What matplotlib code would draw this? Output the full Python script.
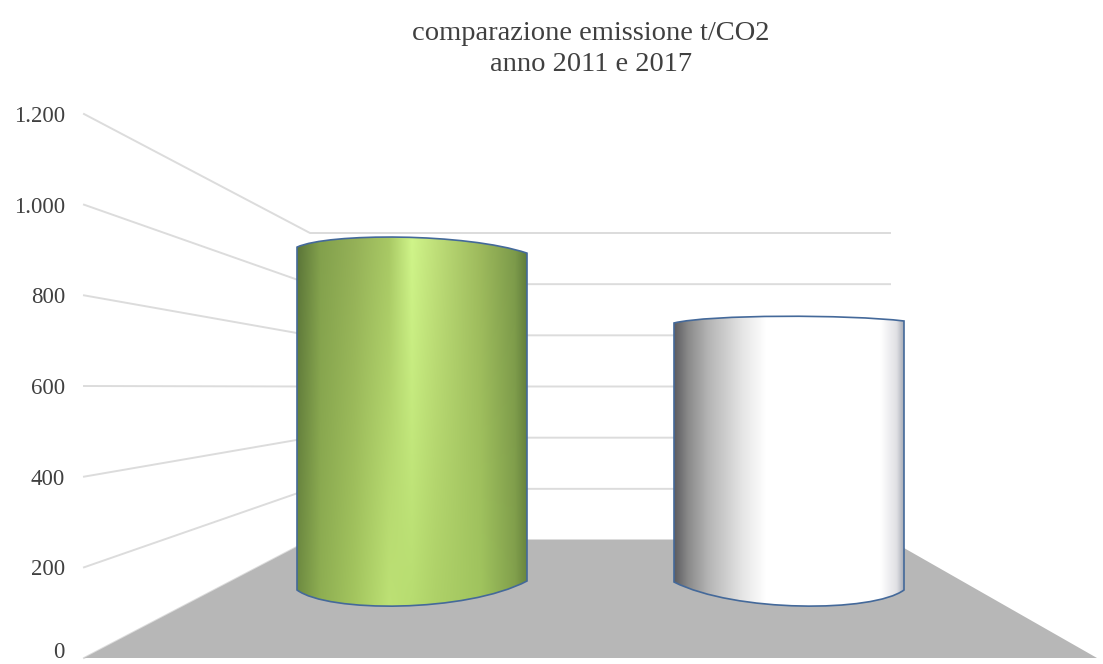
import numpy as np
import matplotlib
matplotlib.use("Agg")
import matplotlib.pyplot as plt
from matplotlib.colors import to_rgb
from matplotlib.patches import Polygon, PathPatch
from matplotlib.path import Path

plt.rcParams['font.family'] = ['Liberation Serif', 'DejaVu Serif']

# data
categories = ['2011', '2017']
emissions = [950, 755]
tick_values = [0, 200, 400, 600, 800, 1000, 1200]
tick_labels = ['0', '200', '400', '600', '800', '1.000', '1.200']
title = 'comparazione emissione t/CO2\nanno 2011 e 2017'

# colour ramps across each bar: stops at the top and at the bottom of the bar
green_pos = [0, 0.1, 0.25, 0.4, 0.5, 0.6, 0.8, 0.95, 1]
green_top = ['#5a7438', '#82a04c', '#94b057', '#a8c864', '#d0f58a', '#c0e07a', '#9db95c', '#7c9a4a', '#5f7c3c']
green_bot = ['#6f8c42', '#8eae52', '#a4c65f', '#bde175', '#b7dc70', '#aed168', '#a0c45e', '#82a04c', '#6a873f']
white_pos = [0, 0.06, 0.15, 0.3, 0.4, 0.9, 0.97, 1]
white_top = ['#5c5c60', '#8a8a8a', '#b5b5b5', '#e6e6e6', '#ffffff', '#ffffff', '#e0e0e4', '#a9aeb8']
ramps = [(green_pos, green_top, green_bot), (white_pos, white_top, white_top)]

# the projected frame, in pixels
front_x, back_x, back_right, floor_right = 84, 310, 890, 1097
front_y0, front_y1 = 658, 114
back_y0, back_y1 = 540, 233
slot_x0, slot_w = 223.5, 377
bar_w = 230

# how the rims of each cylinder bend: left corner, right corner, middle, lean
top_rims = [(-6, 0, -16, -15), (0.7, -1.3, -6, -10)]
bot_rims = [(0, -9, 16, -15), (-8, 0, 16, 15)]


def front_y(v):
    return front_y0 + (front_y1 - front_y0) * v / 1200


def back_y(v):
    return back_y0 + (back_y1 - back_y0) * v / 1200


def mid_y(v):
    # bars stand half way between the front and the back of the floor
    return 590 + (front_y1 - front_y0 + back_y1 - back_y0) / 2 * v / 1200


def rim_controls(x0, x1, y, rim):
    yl, yr, peak, lean = y + rim[0], y + rim[1], y + rim[2], rim[3]
    cy = (peak - (yl + yr) / 8) * 4 / 3
    return (x0, yl), (x0 + 0.2 * bar_w + lean, cy), (x1 - 0.2 * bar_w + lean, cy), (x1, yr)


def barrel(x0, x1, ytop, ybot, top, bot):
    a, b, c, d = rim_controls(x0, x1, ytop, top)
    e, f, g, h = rim_controls(x0, x1, ybot, bot)
    verts = [a, b, c, d, h, g, f, e, a]
    codes = [Path.MOVETO, Path.CURVE4, Path.CURVE4, Path.CURVE4, Path.LINETO,
             Path.CURVE4, Path.CURVE4, Path.CURVE4, Path.CLOSEPOLY]
    return Path(verts, codes)


def shade(pos, top, bot, rows=128, cols=256):
    xs = np.linspace(0, 1, cols)
    t = np.array([np.interp(xs, pos, [to_rgb(c)[k] for c in top]) for k in range(3)]).T
    b = np.array([np.interp(xs, pos, [to_rgb(c)[k] for c in bot]) for k in range(3)]).T
    w = np.linspace(0, 1, rows)[:, None, None]
    return t * (1 - w) + b * w


fig = plt.figure(figsize=(11.03, 6.64), dpi=100)
ax = fig.add_axes([0, 0, 1, 1])
ax.axis('off')

# gridlines, side wall and back wall
for v, lab in zip(tick_values, tick_labels):
    ax.plot([front_x, back_x, back_right], [front_y(v), back_y(v), back_y(v)],
            color='#dcdcdc', lw=1.4, zorder=1, solid_joinstyle='miter')
    # the last label has to stay inside the picture
    ax.text(65, min(front_y(v), 650), lab, ha='right', va='center_baseline', fontsize=16.5, color='#404040')

# floor
ax.add_patch(Polygon([(front_x, front_y0), (floor_right, front_y0), (back_right, back_y0), (back_x, back_y0)],
                     closed=True, fc='#b7b7b7', ec='none', zorder=2))

for i, (cat, val) in enumerate(zip(categories, emissions)):
    xc = slot_x0 + (i + 0.5) * slot_w
    x0, x1 = xc - bar_w / 2, xc + bar_w / 2
    ytop, ybot = mid_y(val), mid_y(0)
    shape = barrel(x0, x1, ytop, ybot, top_rims[i], bot_rims[i])
    im = ax.imshow(shade(*ramps[i]), extent=[x0, x1, ybot + 20, ytop - 20], aspect='auto', zorder=3)
    edge = PathPatch(shape, fc='none', ec='#44699a', lw=1.2, zorder=4)
    ax.add_patch(edge)
    im.set_clip_path(edge)

ax.set_xlim(0, 1103)
ax.set_ylim(664, 0)

ax.text(591, 49, title, ha='center', va='center', fontsize=20.5, color='#404040', linespacing=1.32)

fig.savefig('out.png', dpi=100)
